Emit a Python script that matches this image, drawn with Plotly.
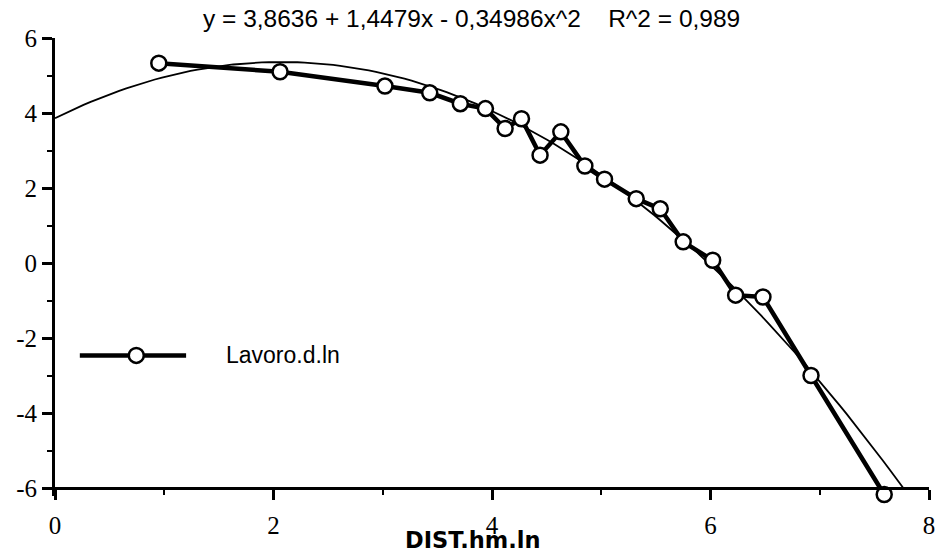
import numpy as np
import plotly.graph_objects as go

# Data
dist = [0.95, 2.06, 3.02, 3.43, 3.71, 3.94, 4.12, 4.27, 4.44, 4.63,
        4.85, 5.03, 5.32, 5.54, 5.75, 6.02, 6.23, 6.48, 6.92, 7.59]
lavoro = [5.33, 5.10, 4.72, 4.54, 4.25, 4.12, 3.59, 3.85, 2.88, 3.50,
          2.59, 2.24, 1.72, 1.45, 0.57, 0.08, -0.85, -0.90, -2.99, -6.16]

# Regression coefficients printed on the chart
fit_coef = [3.8636, 1.4479, -0.34986]
r2_label = "0,989"
series_name = "Lavoro.d.ln"
x_title = "DIST.hm.ln"
x_ticks = [0, 2, 4, 6, 8]
y_ticks = [-6, -4, -2, 0, 2, 4, 6]
y_ticktext = ["-6", "-4", "-2", "0", "2", "4", "6"]

# Fitted curve from x=0 down to the bottom of the y axis (y = -6)
c0, c1, c2 = fit_coef
y_min = -6
disc = c1 ** 2 - 4 * c2 * (c0 - y_min)
x_end = (-c1 - np.sqrt(disc)) / (2 * c2)
fit_x = np.linspace(0, x_end, 120)
fit_y = c0 + c1 * fit_x + c2 * fit_x ** 2

title_text = "y = 3,8636 + 1,4479x - 0,34986x^2    R^2 = " + r2_label

# y range extends a little below -6 so the last marker stays visible;
# the x axis is placed at y = -6
y_lo, y_hi = -6.2, 6
x_axis_pos = (y_min - y_lo) / (y_hi - y_lo)

fig = go.Figure()
fig.add_trace(go.Scatter(
    x=fit_x, y=fit_y, mode="lines",
    line=dict(color="black", width=1.8),
    showlegend=False, hoverinfo="skip",
))
fig.add_trace(go.Scatter(
    x=dist, y=lavoro, mode="lines+markers", name=series_name,
    line=dict(color="black", width=4.5),
    marker=dict(symbol="circle", size=15, color="white",
                line=dict(color="black", width=2.5)),
    cliponaxis=False, showlegend=False,
))

# Legend sample drawn as layout decoration
leg_y = 0.307
shapes = [
    dict(type="line", xref="paper", yref="paper", x0=0.0284, x1=0.150,
         y0=leg_y, y1=leg_y, line=dict(color="black", width=4.5)),
    dict(type="circle", xref="paper", yref="paper", xsizemode="pixel",
         ysizemode="pixel", xanchor=0.093, yanchor=leg_y,
         x0=-7.5, x1=7.5, y0=-7.5, y1=7.5, fillcolor="white",
         line=dict(color="black", width=2.5)),
]

annotations = [
    dict(text=series_name, xref="paper", yref="paper", x=0.193, y=leg_y,
         xanchor="left", yanchor="middle", showarrow=False,
         font=dict(family="Liberation Sans", size=23, color="black")),
    dict(text="<b>" + x_title + "</b>", xref="paper", yref="paper",
         x=0.478, y=0, yshift=-44, xanchor="center", yanchor="middle",
         showarrow=False,
         font=dict(family="DejaVu Sans", size=22.5, color="black")),
    dict(text=title_text, xref="paper", yref="paper", x=0.476, y=1,
         yshift=20, xanchor="center", yanchor="middle", showarrow=False,
         font=dict(family="Liberation Sans", size=24.5, color="black")),
]

fig.update_layout(
    width=942, height=553,
    margin=dict(l=55, r=7, t=38, b=57),
    paper_bgcolor="white", plot_bgcolor="white",
    shapes=shapes, annotations=annotations,
    showlegend=False,
)
fig.update_xaxes(
    range=[0, 8], tickvals=x_ticks, ticks="outside", ticklen=10,
    tickwidth=2.5, tickcolor="black", showgrid=False, zeroline=False,
    showline=True, linecolor="black", linewidth=3,
    anchor="free", position=x_axis_pos,
    ticklabelstandoff=4,
    tickfont=dict(family="Liberation Serif", size=25, color="black"),
    minor=dict(dtick=1, ticks="outside", ticklen=5, tickwidth=2,
               tickcolor="black", showgrid=False),
)
fig.update_yaxes(
    range=[y_lo, y_hi], tickvals=y_ticks, ticktext=y_ticktext,
    ticks="outside", ticklen=10,
    tickwidth=2.5, tickcolor="black", showgrid=False, zeroline=False,
    showline=True, linecolor="black", linewidth=3,
    tickfont=dict(family="Liberation Serif", size=25, color="black"),
    minor=dict(tickvals=[-5, -3, -1, 1, 3, 5], ticks="outside", ticklen=5,
               tickwidth=2, tickcolor="black", showgrid=False),
)

fig.write_html("out.html", config={"displayModeBar": False},
               post_script="document.body.style.margin='0';")
